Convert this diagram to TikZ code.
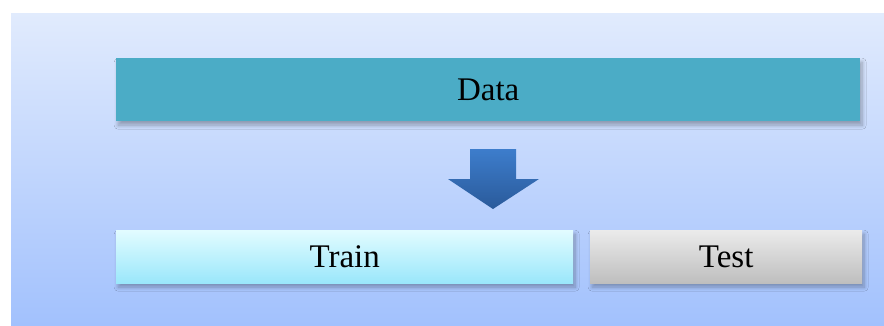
\documentclass[tikz,border=0pt]{standalone}
\usepackage{fontspec}
\setmainfont{Liberation Serif}
\usetikzlibrary{shadows.blur,positioning}
\definecolor{bgtop}{HTML}{E1EBFD}
\definecolor{bgbot}{HTML}{A2C1FD}
\definecolor{datafill}{HTML}{4BACC6}
\definecolor{traintop}{HTML}{E2FCFF}
\definecolor{trainbot}{HTML}{9AE7FB}
\definecolor{testtop}{HTML}{EBEBEB}
\definecolor{testbot}{HTML}{BEBEBE}
\definecolor{arrtop}{HTML}{3D7DCC}
\definecolor{arrbot}{HTML}{2A5A9A}
\tikzset{
  blockbox/.style={draw=none, inner sep=0pt, anchor=north west,
    font=\fontsize{33}{37}\selectfont, text=black,
    blur shadow={shadow xshift=2pt, shadow yshift=-4pt, shadow blur steps=8, shadow blur radius=4pt, shadow opacity=30}},
}
\begin{document}
\begin{tikzpicture}[x=1pt,y=-1pt]
\useasboundingbox (0,0) rectangle (884,325);
\shade[top color=bgtop, bottom color=bgbot] (11,13) rectangle (884,325);
\node[blockbox, fill=datafill, minimum width=744pt, minimum height=63pt] (data) at (116,58) {Data};
\node[blockbox, top color=traintop, bottom color=trainbot, minimum width=457pt, minimum height=53pt] (train) at (116,230) {Train};
\node[blockbox, top color=testtop, bottom color=testbot, minimum width=272pt, minimum height=53pt] (test) at (590,230) {Test};
\shade[top color=arrtop, bottom color=arrbot]
  (470,149) -- (516,149) -- (516,179) -- (539,179) -- (493,209) -- (448,179) -- (470,179) -- cycle;
\end{tikzpicture}
\end{document}
